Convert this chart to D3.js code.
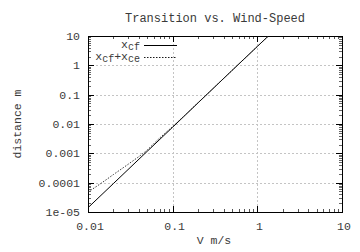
<!DOCTYPE html>
<html><head><meta charset="utf-8">
<script src="https://cdn.jsdelivr.net/npm/d3@7"></script>
<style>
html,body{margin:0;padding:0;background:#fff;}
svg{display:block;}
text{font-family:"Liberation Mono","DejaVu Sans Mono",monospace;fill:#3a3a3a;}
</style></head>
<body>
<svg id="c" width="360" height="252"></svg>
<script>
const title = "Transition vs. Wind-Speed";
const xLabel = "V m/s";
const yLabel = "distance m";
const xTicks = [0.01, 0.1, 1, 10];
const xTickLabels = ["0.01", "0.1", "1", "10"];
const yTicks = [1e-5, 1e-4, 1e-3, 1e-2, 0.1, 1, 10];
const yTickLabels = ["1e-05", "0.0001", "0.001", "0.01", "0.1", "1", "10"];
const vSolid = [0.01, 0.02, 0.05, 0.1, 0.2, 0.5, 1, 1.35];
const xCf = [1.4e-5, 9.4e-5, 1.17e-3, 7.8e-3, 5.3e-2, 0.66, 4.4, 10];
const vDash = [0.01, 0.015, 0.02, 0.03, 0.05, 0.07, 0.1, 0.2, 0.5, 1, 1.35];
const xCfCe = [4.8e-5, 1.05e-4, 1.9e-4, 4.3e-4, 1.3e-3, 3.3e-3, 8.2e-3, 5.35e-2, 0.66, 4.4, 10];

const L = 88, R = 342, T = 36, B = 212;
const svg = d3.select("#c");
const x = d3.scaleLog().domain([0.01, 10]).range([L, R]);
const y = d3.scaleLog().domain([1e-5, 10]).range([B, T]);

svg.append("defs").append("clipPath").attr("id", "clip")
  .append("rect").attr("x", L).attr("y", T).attr("width", R - L).attr("height", B - T);

// grid
const grid = svg.append("g").attr("stroke", "#c4c4c4").attr("stroke-width", 1).attr("stroke-dasharray", "2,2");
xTicks.filter(v => v > 0.01 && v < 10).forEach(v => {
  const px = Math.round(x(v)) + 0.5;
  grid.append("line").attr("x1", px).attr("x2", px).attr("y1", T).attr("y2", B);
});
yTicks.filter(v => v > 1e-5 && v < 10).forEach(v => {
  const py = Math.round(y(v)) + 0.5;
  grid.append("line").attr("x1", L).attr("x2", R).attr("y1", py).attr("y2", py);
});

// ticks (inward, mirrored)
const tk = svg.append("g").attr("stroke", "#000").attr("stroke-width", 1);
const minorX = [], minorY = [];
[0.01, 0.1, 1].forEach(d => { for (let k = 2; k <= 9; k++) minorX.push(d * k); });
[1e-5, 1e-4, 1e-3, 1e-2, 0.1, 1].forEach(d => { for (let k = 2; k <= 9; k++) minorY.push(d * k); });
function xt(v, len, col) {
  const px = Math.round(x(v)) + 0.5;
  tk.append("line").attr("x1", px).attr("x2", px).attr("y1", B).attr("y2", B - len).attr("stroke", col);
  tk.append("line").attr("x1", px).attr("x2", px).attr("y1", T).attr("y2", T + len).attr("stroke", col);
}
function yt(v, len, col) {
  const py = Math.round(y(v)) + 0.5;
  tk.append("line").attr("x1", L).attr("x2", L + len).attr("y1", py).attr("y2", py).attr("stroke", col);
  tk.append("line").attr("x1", R).attr("x2", R - len).attr("y1", py).attr("y2", py).attr("stroke", col);
}
xTicks.forEach(v => xt(v, 6, "#000"));
minorX.forEach(v => xt(v, 3, "#555"));
yTicks.forEach(v => yt(v, 6, "#000"));
minorY.forEach(v => yt(v, 3, "#666"));

// border
svg.append("rect").attr("x", L + 0.5).attr("y", T + 0.5).attr("width", R - L).attr("height", B - T)
  .attr("fill", "none").attr("stroke", "#000").attr("stroke-width", 1);

// tick labels
xTicks.forEach((v, i) => {
  svg.append("text").attr("x", x(v) + 2).attr("y", 230).attr("text-anchor", "middle")
    .attr("font-size", "11.5px").text(xTickLabels[i]);
});
yTicks.forEach((v, i) => {
  svg.append("text").attr("x", 80).attr("y", y(v) + 4).attr("text-anchor", "end")
    .attr("font-size", "11.5px").text(yTickLabels[i]);
});

// title & axis labels
svg.append("text").attr("x", 215).attr("y", 22).attr("text-anchor", "middle").attr("font-size", "12px").text(title);
svg.append("text").attr("x", 214).attr("y", 244).attr("text-anchor", "middle").attr("font-size", "11.5px").text(xLabel);
svg.append("text").attr("transform", "translate(21,124) rotate(-90)").attr("text-anchor", "middle")
  .attr("font-size", "11.5px").text(yLabel);

// lines
const line = d3.line().x(d => x(d[0])).y(d => y(d[1])).curve(d3.curveMonotoneX);
const plot = svg.append("g").attr("clip-path", "url(#clip)");
plot.append("path").datum(vSolid.map((v, i) => [v, xCf[i]])).attr("d", line)
  .attr("fill", "none").attr("stroke", "#000").attr("stroke-width", 1);
plot.append("path").datum(vDash.map((v, i) => [v, xCfCe[i]])).attr("d", line)
  .attr("fill", "none").attr("stroke", "#222").attr("stroke-width", 0.9).attr("stroke-dasharray", "1.5,1.5");

// legend
const leg = [
  {parts: [["x", 0], ["cf", 1]], dash: null, y: 45},
  {parts: [["x", 0], ["cf", 1], ["+", 0], ["x", 0], ["ce", 1]], dash: "1.5,1.5", y: 57}
];
leg.forEach(l => {
  const t = svg.append("text").attr("x", 140).attr("y", l.y + 2.5).attr("text-anchor", "end").attr("font-size", "11.5px");
  let down = false;
  l.parts.forEach(p => {
    if (p[1]) {
      t.append("tspan").attr("font-size", "10px").attr("dy", down ? 0 : 2.5).text(p[0]);
      down = true;
    } else {
      t.append("tspan").attr("dy", down ? -2.5 : 0).text(p[0]);
      down = false;
    }
  });
  svg.append("line").attr("x1", 144).attr("x2", 177).attr("y1", l.y + 0.5).attr("y2", l.y + 0.5)
    .attr("stroke", "#000").attr("stroke-width", l.dash ? 0.9 : 1).attr("stroke-dasharray", l.dash);
});
</script>
</body></html>
